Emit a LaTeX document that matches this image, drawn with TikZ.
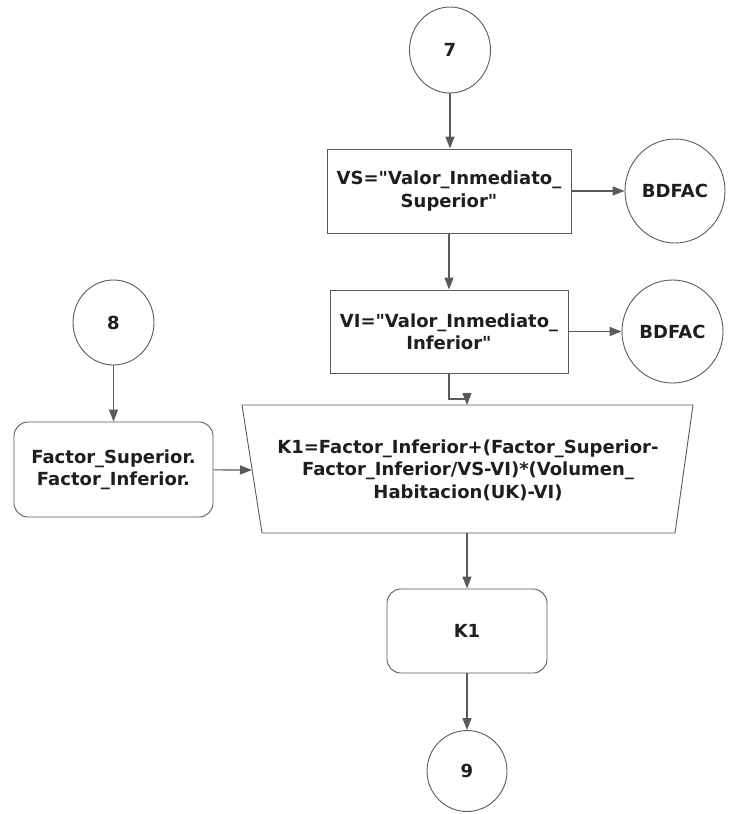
\documentclass[tikz,border=0pt]{standalone}
\usepackage{fontspec}
\setmainfont{DejaVu Sans}[Ligatures=TeXOff]
\usetikzlibrary{arrows.meta,shapes.geometric}
\definecolor{linec}{HTML}{5A5A5A}
\definecolor{txtc}{HTML}{1E1E1E}
\begin{document}
\begin{tikzpicture}[x=1pt,y=-1pt,
  every node/.style={font=\fontsize{18}{22.4}\selectfont\bfseries, text=txtc, align=center, inner sep=0pt},
  conn/.style={ellipse, draw=linec, line width=0.9pt},
  procbox/.style={rectangle, draw=linec, line width=0.9pt},
  roundbox/.style={rectangle, rounded corners=14pt, draw=linec, line width=0.9pt},
  arr/.style={draw=linec, line width=1.2pt, -{Triangle[length=12pt,width=9pt]}}]
\useasboundingbox (0,0) rectangle (732,814);
\fill[white] (0,0) rectangle (732,814);

\node[conn, minimum width=81pt, minimum height=86pt] (c7) at (450,50) {7};
\node[procbox, minimum width=244pt, minimum height=84pt] (vs) at (449,191) {VS="Valor\_Inmediato\_\\Superior"};
\node[conn, minimum width=100pt, minimum height=104pt] (b1) at (675,191) {BDFAC};
\node[procbox, minimum width=238pt, minimum height=83pt] (vi) at (449,331.5) {VI="Valor\_Inmediato\_\\Inferior"};
\node[conn, minimum width=101pt, minimum height=103pt] (b2) at (672.5,331.5) {BDFAC};
\node[conn, minimum width=81pt, minimum height=85pt] (c8) at (113.5,322.5) {8};
\node[roundbox, minimum width=199pt, minimum height=95pt] (fac) at (113.5,469.5) {Factor\_Superior.\\Factor\_Inferior.};

% manual operation trapezium
\coordinate (tTL) at (242,405);
\coordinate (tTR) at (693,405);
\coordinate (tBR) at (675,533);
\coordinate (tBL) at (262,533);
\draw[linec, line width=0.9pt] (tTL) -- (tTR) -- (tBR) -- (tBL) -- cycle;
\node (trap) at (468,470) {K1=Factor\_Inferior+(Factor\_Superior-\\Factor\_Inferior/VS-VI)*(Volumen\_\\Habitacion(UK)-VI)};
\coordinate (ttop) at (467,405);
\coordinate (tjog) at (467,399);
\coordinate (tleft) at (252,470);
\coordinate (tbot) at (467,533);

\node[roundbox, minimum width=160pt, minimum height=84pt] (k1) at (467,631) {K1};
\node[conn, minimum width=80pt, minimum height=81pt] (c9) at (467,771) {9};

\draw[arr] (c7) -- (c7 |- vs.north);
\draw[arr] (vs) -- (b1);
\draw[arr] (vs.south) -- (vi.north);
\draw[arr] (vi) -- (b2);
\draw[arr] (vi.south) |- (tjog) -- (ttop);
\draw[arr, line width=1.6pt] (c8) -- (fac);
\draw[arr] (fac) -- (tleft);
\draw[arr] (tbot) -- (k1);
\draw[arr] (k1) -- (c9);
\end{tikzpicture}
\end{document}
